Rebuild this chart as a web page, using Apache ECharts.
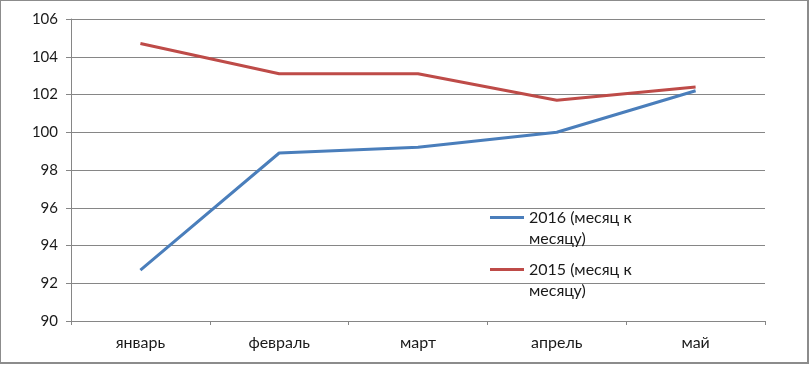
<!DOCTYPE html>
<html><head><meta charset="utf-8">
<script src="https://cdn.jsdelivr.net/npm/echarts@6/dist/echarts.min.js"></script>
<style>
html,body{margin:0;padding:0;background:#fff;}
#frame{position:absolute;left:0;top:0;width:806px;height:361px;border:2px solid #8c8c8c;border-width:1px 2px 2px 1px;}
#c{position:absolute;left:0;top:0;width:810px;height:365px;}
</style></head>
<body><div id="frame"></div><div id="c"></div>
<script>
var categories = ['январь', 'февраль', 'март', 'апрель', 'май'];
var series2016 = [92.7, 98.9, 99.2, 100.0, 102.2];
var series2015 = [104.7, 103.1, 103.1, 101.7, 102.4];
var name2016 = '2016 (месяц к\nмесяцу)';
var name2015 = '2015 (месяц к\nмесяцу)';
var yTicks = [90, 92, 94, 96, 98, 100, 102, 104, 106];

var font = 'Lato, "Open Sans", sans-serif';
var chart = echarts.init(document.getElementById('c'), null, {renderer: 'canvas'});
function legendCfg(name, top) {
  return {
    data: [name], left: 490, top: top, orient: 'vertical', padding: 0,
    itemWidth: 34, itemHeight: 3, icon: 'rect', itemGap: 4,
    selectedMode: false,
    formatter: function (n) { return '\n' + n; },
    textStyle: {fontFamily: font, fontSize: 16, color: '#1a1a1a', lineHeight: 21}
  };
}
chart.setOption({
  animation: false,
  grid: {left: 71, right: 45, top: 19, bottom: 44},
  legend: [legendCfg(name2016, 186), legendCfg(name2015, 238)],
  xAxis: {
    type: 'category', data: categories, boundaryGap: true,
    axisLine: {lineStyle: {color: '#868686', width: 1}},
    axisTick: {show: true, length: 4, lineStyle: {color: '#868686'}},
    axisLabel: {fontFamily: font, fontSize: 16, color: '#1a1a1a', margin: 14},
    splitLine: {show: false}
  },
  yAxis: {
    type: 'value', min: yTicks[0], max: yTicks[yTicks.length - 1], interval: 2,
    axisLine: {show: true, lineStyle: {color: '#868686', width: 1}},
    axisTick: {show: true, length: 5, lineStyle: {color: '#868686'}},
    axisLabel: {fontFamily: font, fontSize: 15, color: '#1a1a1a', margin: 13},
    splitLine: {show: true, lineStyle: {color: '#868686', width: 1}}
  },
  series: [
    {name: name2016, type: 'line', data: series2016, symbol: 'none',
     lineStyle: {color: '#4A7EBB', width: 3}, itemStyle: {color: '#4A7EBB'}},
    {name: name2015, type: 'line', data: series2015, symbol: 'none',
     lineStyle: {color: '#BE4B48', width: 3}, itemStyle: {color: '#BE4B48'}}
  ]
});
</script></body></html>
